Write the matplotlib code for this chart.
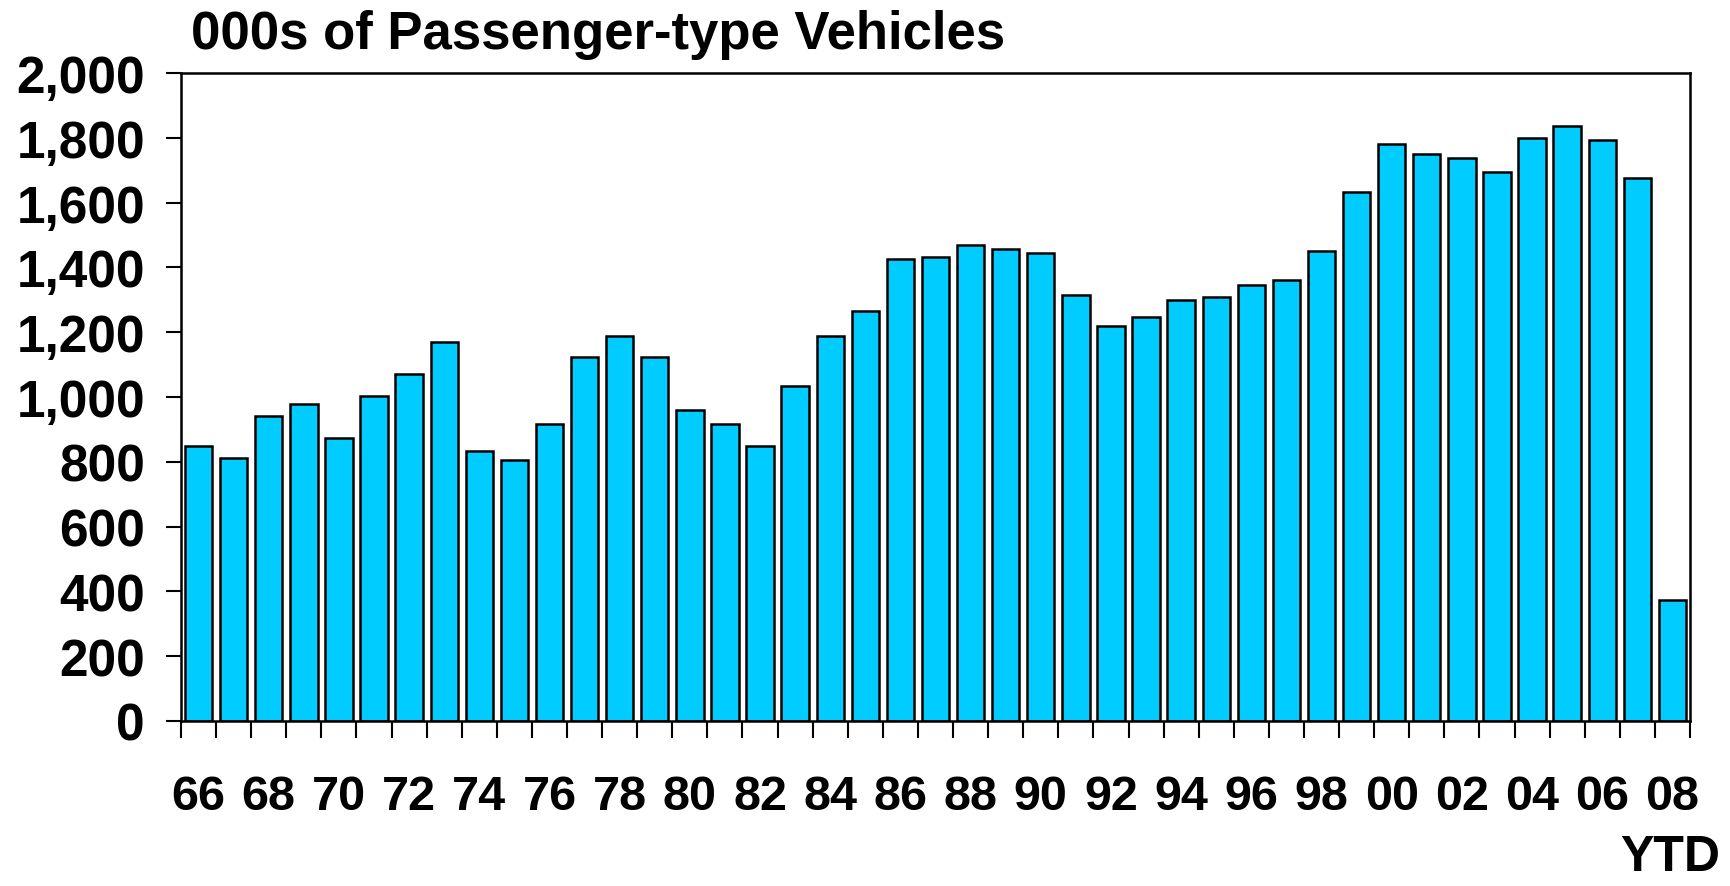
import matplotlib
matplotlib.use("Agg")
import matplotlib.pyplot as plt
import numpy as np

years = ["66","67","68","69","70","71","72","73","74","75","76","77","78","79","80",
         "81","82","83","84","85","86","87","88","89","90","91","92","93","94","95",
         "96","97","98","99","00","01","02","03","04","05","06","07","08"]
values = [850, 812, 942, 978, 875, 1004, 1070, 1169, 832, 806, 917, 1125, 1187, 1125, 961,
          917, 850, 1034, 1187, 1266, 1426, 1432, 1469, 1456, 1444, 1316, 1219, 1248, 1298, 1310,
          1347, 1360, 1451, 1634, 1781, 1750, 1738, 1694, 1799, 1836, 1793, 1677, 375]
yticks = [0, 200, 400, 600, 800, 1000, 1200, 1400, 1600, 1800, 2000]
title = "000s of Passenger-type Vehicles"

plt.rcParams['font.family'] = ['Liberation Sans', 'DejaVu Sans']
plt.rcParams['font.weight'] = 'bold'

W, H = 1730, 887
fig = plt.figure(figsize=(W/100, H/100), dpi=100)
left, right, top, bottom = 181, 1690, 74, 722
ax = fig.add_axes([left/W, 1-bottom/H, (right-left)/W, (bottom-top)/H])

x = np.arange(len(values))
ax.bar(x, values, width=0.78, color="#00CCFF", edgecolor="black", linewidth=1.8, zorder=2)

ax.set_xlim(-0.5, len(values)-0.5)
ax.set_ylim(0, 2000)
ax.set_yticks(yticks)
ax.set_yticklabels([f"{v:,}" for v in yticks], fontsize=37, fontweight='bold')
ax.tick_params(axis='y', length=11, width=1.5, pad=15, direction='out')

major = x[::2]
ax.set_xticks(major)
ax.set_xticklabels([years[i] for i in major], fontsize=35, fontweight='bold')
ax.set_xticks(np.arange(-0.5, len(values)), minor=True)
ax.tick_params(axis='x', which='major', length=0, pad=38)
ax.tick_params(axis='x', which='minor', length=12, width=1.5, direction='out')

for s in ax.spines.values():
    s.set_linewidth(1.8)
    s.set_color('black')

fig.text(191/W, 1-35/H, title, fontsize=38, fontweight='bold', ha='left', va='center')
fig.text(1620/W, 1-858/H, "YTD", fontsize=36, fontweight='bold', ha='left', va='center')

fig.savefig("out.png", dpi=100)
